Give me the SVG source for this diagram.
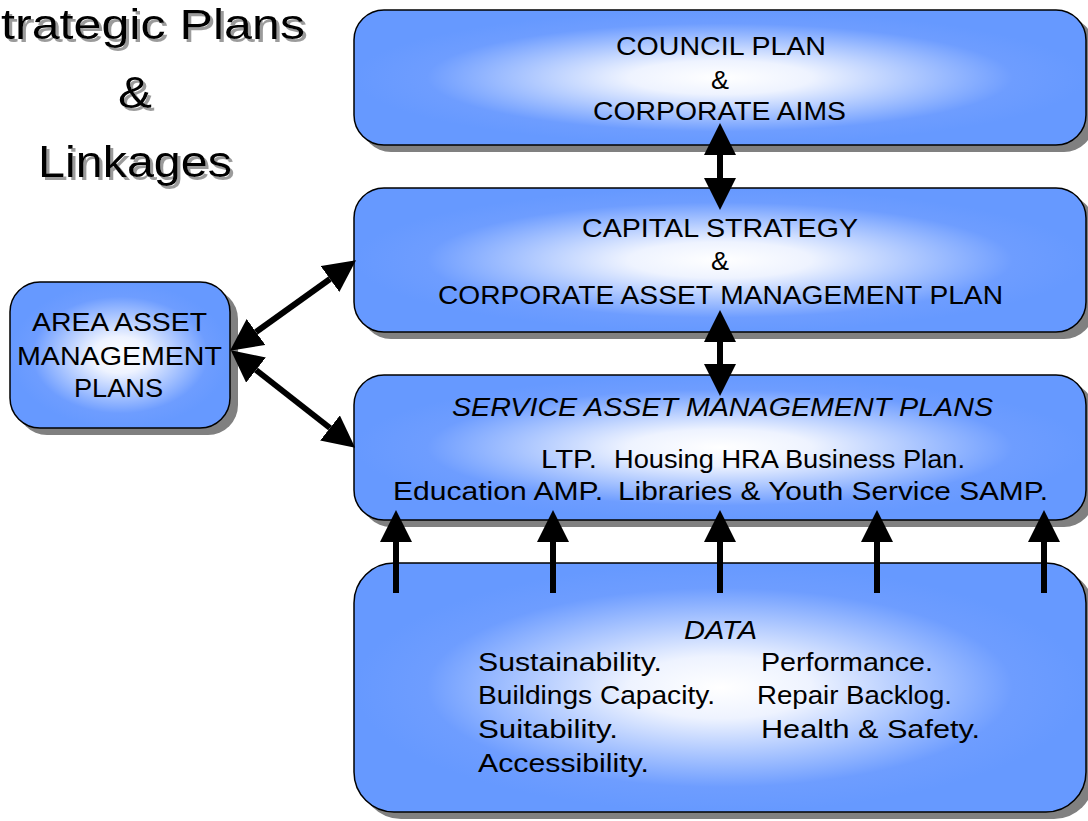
<svg xmlns="http://www.w3.org/2000/svg" width="1088" height="821" viewBox="0 0 1088 821">
<defs>
<radialGradient id="g" cx="0.5" cy="0.5" r="0.5">
<stop offset="0" stop-color="#FFFFFF"/>
<stop offset="0.25" stop-color="#EEF3FF"/>
<stop offset="0.8" stop-color="#6E9DFF"/>
<stop offset="1" stop-color="#6699FF"/>
</radialGradient>
<filter id="ds" x="-5%" y="-20%" width="115%" height="150%">
<feDropShadow dx="3" dy="3" stdDeviation="0.6" flood-color="#909090" flood-opacity="0.9"/>
</filter>
<marker id="ah" markerUnits="userSpaceOnUse" markerWidth="32" markerHeight="32" refX="0" refY="15" orient="auto-start-reverse" viewBox="0 0 30 30">
<path d="M0,0 L30,15 L0,30 z" fill="#000"/>
</marker>
<style>
.box{fill:url(#g);stroke:#000;stroke-width:1.5}
.sh{fill:#808080}
.t{font-family:"Liberation Sans",Arial,sans-serif;font-size:26px;fill:#000}
.i{font-style:italic}
.ttl{font-family:"Liberation Sans",Arial,sans-serif;font-size:44px;fill:#000}
.c{stroke:#000;stroke-width:6;fill:none;marker-start:url(#ah);marker-end:url(#ah)}
.u{stroke:#000;stroke-width:6;fill:none;marker-end:url(#ah)}
</style>
</defs>
<rect width="1088" height="821" fill="#FFFFFF"/>
<g id="title" filter="url(#ds)">
<text class="ttl" x="1" y="39" style="font-size:42px" textLength="304" lengthAdjust="spacingAndGlyphs">trategic Plans</text>
<text class="ttl" x="118" y="108" textLength="34" lengthAdjust="spacingAndGlyphs">&amp;</text>
<text class="ttl" x="38" y="177" textLength="194" lengthAdjust="spacingAndGlyphs">Linkages</text>
</g>
<g id="council">
<rect class="sh" x="361" y="17" width="733" height="135" rx="30"/>
<rect class="box" x="354" y="10" width="732" height="135" rx="30"/>
<text class="t" x="616" y="55" textLength="210" lengthAdjust="spacingAndGlyphs">COUNCIL PLAN</text>
<text class="t" x="711" y="89" textLength="18" lengthAdjust="spacingAndGlyphs">&amp;</text>
<text class="t" x="593" y="120" textLength="253" lengthAdjust="spacingAndGlyphs">CORPORATE AIMS</text>
</g>
<g id="capital">
<rect class="sh" x="361" y="195" width="733" height="144" rx="30"/>
<rect class="box" x="354" y="188" width="732" height="144" rx="30"/>
<text class="t" x="582" y="237" textLength="276" lengthAdjust="spacingAndGlyphs">CAPITAL STRATEGY</text>
<text class="t" x="711" y="270" textLength="18" lengthAdjust="spacingAndGlyphs">&amp;</text>
<text class="t" x="438" y="304" textLength="565" lengthAdjust="spacingAndGlyphs">CORPORATE ASSET MANAGEMENT PLAN</text>
</g>
<g id="area">
<rect class="sh" x="17" y="289" width="221" height="146" rx="30"/>
<rect class="box" x="10" y="282" width="220" height="146" rx="30"/>
<text class="t" x="32" y="331" textLength="175" lengthAdjust="spacingAndGlyphs">AREA ASSET</text>
<text class="t" x="17" y="365" textLength="205" lengthAdjust="spacingAndGlyphs">MANAGEMENT</text>
<text class="t" x="74" y="397" textLength="89" lengthAdjust="spacingAndGlyphs">PLANS</text>
</g>
<g id="service">
<rect class="sh" x="361" y="382" width="733" height="145" rx="30"/>
<rect class="box" x="354" y="375" width="732" height="145" rx="30"/>
<text class="t i" x="452" y="416" textLength="541" lengthAdjust="spacingAndGlyphs">SERVICE ASSET MANAGEMENT PLANS</text>
<text class="t" x="541" y="468" textLength="56" lengthAdjust="spacingAndGlyphs">LTP.</text>
<text class="t" x="614" y="468" textLength="351" lengthAdjust="spacingAndGlyphs">Housing HRA Business Plan.</text>
<text class="t" x="393" y="500" textLength="210" lengthAdjust="spacingAndGlyphs">Education AMP.</text>
<text class="t" x="618" y="500" textLength="430" lengthAdjust="spacingAndGlyphs">Libraries &amp; Youth Service SAMP.</text>
</g>
<g id="data">
<rect class="sh" x="361" y="570" width="733" height="249" rx="40"/>
<rect class="box" x="354" y="563" width="732" height="249" rx="40"/>
<text class="t i" x="684" y="639" textLength="73" lengthAdjust="spacingAndGlyphs">DATA</text>
<text class="t" x="478" y="671" textLength="184" lengthAdjust="spacingAndGlyphs">Sustainability.</text>
<text class="t" x="478" y="704" textLength="237" lengthAdjust="spacingAndGlyphs">Buildings Capacity.</text>
<text class="t" x="478" y="738" textLength="140" lengthAdjust="spacingAndGlyphs">Suitability.</text>
<text class="t" x="478" y="772" textLength="171" lengthAdjust="spacingAndGlyphs">Accessibility.</text>
<text class="t" x="761" y="671" textLength="172" lengthAdjust="spacingAndGlyphs">Performance.</text>
<text class="t" x="757" y="704" textLength="195" lengthAdjust="spacingAndGlyphs">Repair Backlog.</text>
<text class="t" x="761" y="738" textLength="219" lengthAdjust="spacingAndGlyphs">Health &amp; Safety.</text>
</g>
<g id="connectors">
<line class="c" x1="720" y1="155" x2="720" y2="178"/>
<line class="c" x1="720" y1="342" x2="720" y2="364"/>
<line class="c" x1="256" y1="332" x2="330" y2="279"/>
<line class="c" x1="256" y1="370" x2="330" y2="428"/>
<line class="u" x1="396" y1="593" x2="396" y2="542"/>
<line class="u" x1="553" y1="593" x2="553" y2="542"/>
<line class="u" x1="720" y1="593" x2="720" y2="542"/>
<line class="u" x1="877" y1="593" x2="877" y2="542"/>
<line class="u" x1="1044" y1="593" x2="1044" y2="542"/>
</g>
</svg>
